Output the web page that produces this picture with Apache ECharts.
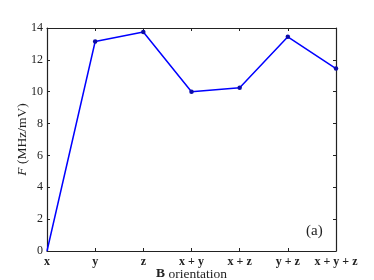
<!DOCTYPE html>
<html>
<head>
<meta charset="utf-8">
<script src="https://cdn.jsdelivr.net/npm/echarts@6/dist/echarts.min.js"></script>
<style>
  html, body { margin: 0; padding: 0; background: #fff; }
  #chart { width: 374px; height: 280px; }
</style>
</head>
<body>
<div id="chart"></div>
<script>
// B field orientations and measured F values
var orientations = ['x', 'y', 'z', 'x + y', 'x + z', 'y + z', 'x + y + z'];
var fValues = [0, 13.15, 13.75, 10.0, 10.25, 13.45, 11.45];
var yTicks = { min: 0, max: 14, interval: 2 };

var font = 'Liberation Serif';
var ink = '#222';

var chart = echarts.init(document.getElementById('chart'));

// the first point sits on the corner, no dot drawn there
var lineData = fValues.map(function (v, i) {
  return i === 0 ? { value: v, symbol: 'none' } : v;
});

var option = {
  backgroundColor: '#fff',
  animation: false,
  grid: { left: 47, right: 38, top: 28, bottom: 29, outerBoundsMode: 'none', containLabel: false },
  xAxis: [{
    type: 'category',
    data: orientations,
    boundaryGap: false,
    axisLine: { onZero: false, lineStyle: { color: ink, width: 1.2 } },
    axisTick: { inside: true, length: 3, interval: 0, lineStyle: { color: ink } },
    axisLabel: { color: ink, fontFamily: font, fontWeight: 'bold', fontSize: 12, margin: 5, interval: 0, hideOverlap: false },
    name: '{b|B} orientation',
    nameLocation: 'middle',
    nameMoveOverlap: false,
    nameGap: 16,
    nameTextStyle: {
      color: ink, fontFamily: font, fontSize: 13.5,
      rich: { b: { fontWeight: 'bold', fontFamily: font, fontSize: 13.5, color: ink } }
    }
  }, {
    type: 'category',
    data: orientations,
    boundaryGap: false,
    position: 'top',
    axisLine: { onZero: false, lineStyle: { color: ink, width: 1.2 } },
    axisTick: { inside: true, length: 3, interval: 0, lineStyle: { color: ink } },
    axisLabel: { show: false }
  }],
  yAxis: [{
    type: 'value',
    min: yTicks.min,
    max: yTicks.max,
    interval: yTicks.interval,
    splitLine: { show: false },
    axisLine: { show: true, onZero: false, lineStyle: { color: ink, width: 1.2 } },
    axisTick: { show: true, inside: true, length: 3, lineStyle: { color: ink } },
    axisLabel: { color: ink, fontFamily: font, fontSize: 12, margin: 4 },
    name: '{i|F} (MHz/mV)',
    nameLocation: 'middle',
    nameMoveOverlap: false,
    nameGap: 18,
    nameTextStyle: {
      color: ink, fontFamily: font, fontSize: 13.5,
      rich: { i: { fontStyle: 'italic', fontFamily: font, fontSize: 13.5, color: ink } }
    }
  }, {
    type: 'value',
    position: 'right',
    min: yTicks.min,
    max: yTicks.max,
    interval: yTicks.interval,
    splitLine: { show: false },
    axisLine: { show: true, onZero: false, lineStyle: { color: ink, width: 1.2 } },
    axisTick: { show: true, inside: true, length: 3, lineStyle: { color: ink } },
    axisLabel: { show: false }
  }],
  series: [{
    type: 'line',
    data: lineData,
    clip: false,
    symbol: 'circle',
    symbolSize: 4.5,
    showAllSymbol: true,
    lineStyle: { color: '#0000ff', width: 1.5 },
    itemStyle: { color: '#0b0ba8' }
  }],
  graphic: [{
    type: 'text',
    left: 306,
    top: 224,
    style: { text: '(a)', font: '15px ' + font, fill: ink }
  }]
};

chart.setOption(option);
</script>
</body>
</html>
